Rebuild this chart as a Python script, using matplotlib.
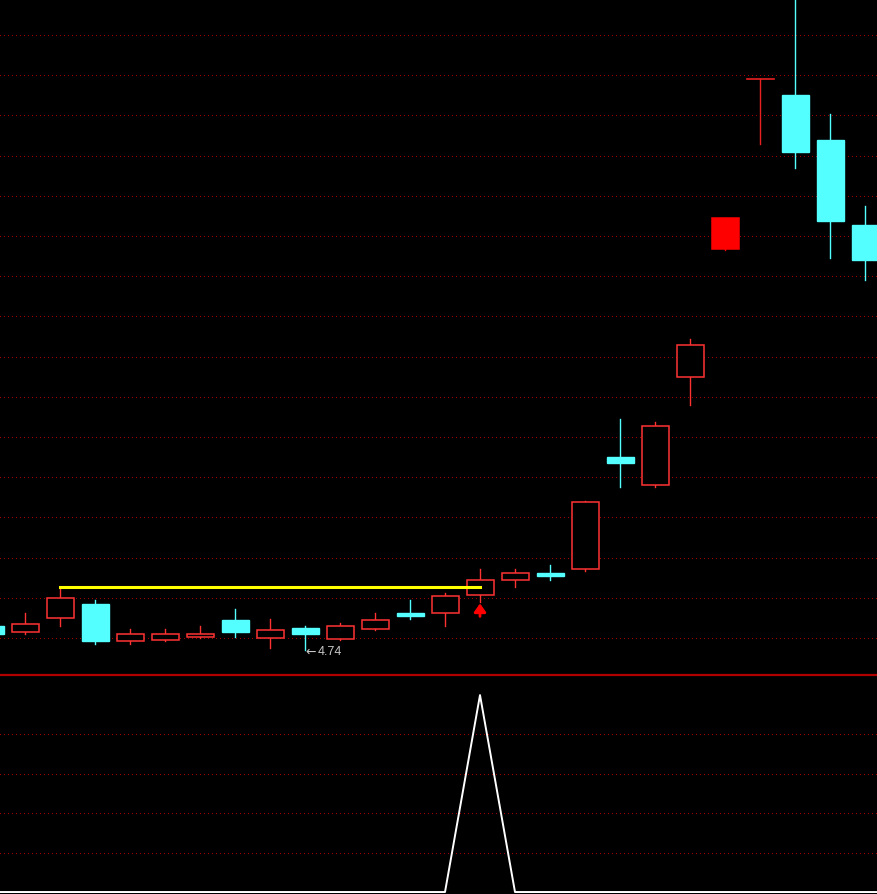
import matplotlib
matplotlib.use("Agg")
import matplotlib.pyplot as plt
from matplotlib.patches import Rectangle
import numpy as np

plt.rcParams['lines.scale_dashes'] = False

# datos de las velas (open, high, low, close)
opens  = [4.94, 4.89, 5.00, 5.12, 4.81, 4.82, 4.85, 4.99, 4.84, 4.92, 4.83, 4.91, 5.04,
          5.04, 5.19, 5.31, 5.37, 5.40, 6.32, 6.09, 6.98, 8.03, 9.42, 9.29, 8.92, 8.22]
highs  = [4.95, 5.04, 5.26, 5.15, 4.91, 4.91, 4.94, 5.08, 4.99, 4.94, 4.96, 5.04, 5.15,
          5.21, 5.40, 5.40, 5.44, 5.96, 6.63, 6.61, 7.29, 8.28, 9.42, 10.30, 9.13, 8.38]
lows   = [4.86, 4.87, 4.94, 4.79, 4.79, 4.81, 4.84, 4.85, 4.76, 4.74, 4.82, 4.90, 4.99,
          4.94, 5.13, 5.26, 5.31, 5.39, 6.08, 6.08, 6.75, 8.02, 8.89, 8.69, 7.95, 7.77]
closes = [4.87, 4.95, 5.17, 4.81, 4.87, 4.87, 4.87, 4.89, 4.90, 4.87, 4.94, 4.99, 5.02,
          5.18, 5.31, 5.37, 5.35, 5.95, 6.27, 6.58, 7.24, 8.28, 9.42, 8.82, 8.26, 7.94]
filled_box = [21]          # vela roja rellena
signal_day = 14            # flecha roja y pico del indicador
line_start = 2             # linea amarilla desde el maximo de esta vela

# indicador inferior
indicador = [0] * len(closes)
indicador[signal_day] = 100

rojo = "#ff3232"
cian = "#54ffff"
grid_col = "#a00000"
punteado = (0, (0.72, 2.16))

fig = plt.figure(figsize=(8.78, 8.94), dpi=100, facecolor="black")
ax = fig.add_axes([0, 219 / 894, 1, 675 / 894], facecolor="black")
ax2 = fig.add_axes([0, 0, 1, 219 / 894], facecolor="black")

x = np.arange(len(closes))
ancho = 27 / 35

# pixel -> precio (35 px por vela, 122 px por unidad)
def px2price(py):
    return 4.74 + (650 - py) / 122

ax.set_xlim(10 / 35, 888 / 35)
ax.set_ylim(px2price(675), px2price(0))

# rejilla punteada
for j in range(16):
    ax.axhline(px2price(35 + 40.2 * j), color=grid_col, lw=0.72,
               linestyle=punteado, antialiased=False, zorder=0)

for i in x:
    o, h, l, c = opens[i], highs[i], lows[i], closes[i]
    if i in filled_box:
        col = "#ff0000"
    elif c > o:
        col = rojo
    elif c == o:
        col = "#e82020"
    else:
        col = cian
    ax.plot([i, i], [l, h], color=col, lw=1.0, zorder=2)
    if c == o:
        ax.plot([i - ancho / 2, i + ancho / 2], [o, o], color=col, lw=1.2, zorder=3)
    elif c > o:
        face = col if i in filled_box else "black"
        ax.add_patch(Rectangle((i - ancho / 2, o), ancho, c - o, facecolor=face,
                               edgecolor=col, lw=1.1, zorder=3))
    else:
        ax.add_patch(Rectangle((i - ancho / 2, c), ancho, o - c, facecolor=col,
                               edgecolor=col, lw=1.0, zorder=3))

# linea amarilla
ax.plot([line_start, signal_day], [highs[line_start], highs[line_start]],
        color="#ffff00", lw=2.2, zorder=4)

# flecha roja bajo la vela de senal
ax.annotate("", xy=(signal_day, lows[signal_day] - 0.008),
            xytext=(signal_day, lows[signal_day] - 0.115),
            arrowprops=dict(arrowstyle="-|>,head_length=0.5,head_width=0.35",
                            color="#ff0000", lw=2.0, shrinkA=0, shrinkB=0), zorder=4)

# etiqueta del minimo
imin = int(np.argmin(lows))
ax.annotate("\u2190", xy=(imin, lows[imin] - 0.016), xytext=(0, 0),
            textcoords="offset points", color="#c8c8c8", fontsize=9,
            ha="left", va="center", family="DejaVu Sans")
ax.annotate(f"{lows[imin]:.2f}", xy=(imin, lows[imin] - 0.016), xytext=(9, 0),
            textcoords="offset points", color="#c8c8c8", fontsize=9,
            ha="left", va="center", family="Liberation Sans")

ax.set_xticks([])
ax.set_yticks([])
for s in ax.spines.values():
    s.set_visible(False)

# panel inferior
ax2.set_xlim(ax.get_xlim())
ax2.set_ylim(-1.0, 110.2)
for g in [20, 40, 60, 80]:
    ax2.axhline(g, color=grid_col, lw=0.72, linestyle=punteado, antialiased=False, zorder=0)
ax2.plot(np.r_[-1, x, len(x)], np.r_[0, indicador, 0], color="white", lw=1.4, zorder=2)
ax2.set_xticks([])
ax2.set_yticks([])
for s in ax2.spines.values():
    s.set_visible(False)
ax2.axhline(110.2, color="#b00000", lw=1.6, clip_on=False)

fig.savefig("out.png", dpi=100, facecolor="black")
